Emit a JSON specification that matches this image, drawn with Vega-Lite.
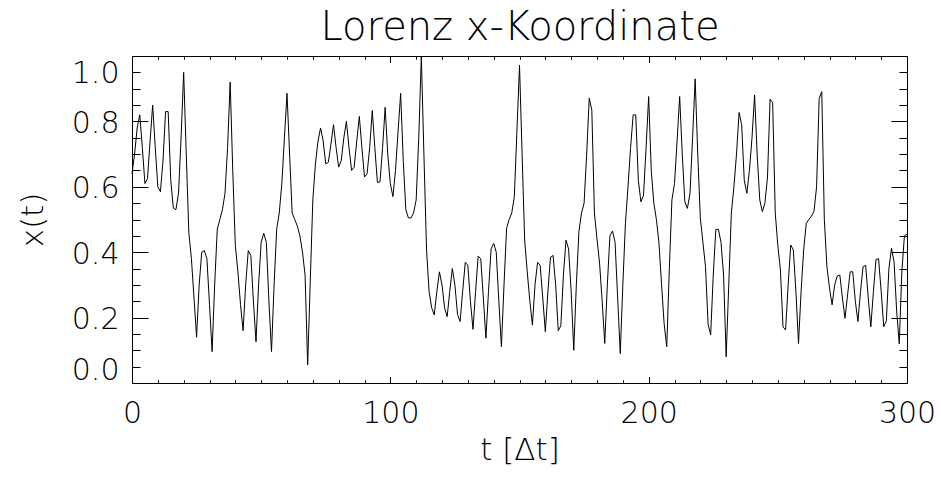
{
  "$schema": "https://vega.github.io/schema/vega-lite/v6.json",
  "width": 775,
  "height": 327,
  "autosize": "none",
  "padding": {"left": 132, "top": 56, "right": 34, "bottom": 99},
  "background": "white",
  "config": {
    "view": {"stroke": "black", "strokeWidth": 1},
    "font": "DejaVu Sans",
    "axis": {
      "grid": false,
      "domain": false,
      "tickColor": "black",
      "tickWidth": 1,
      "labelFont": "DejaVu Sans",
      "labelFontSize": 30,
      "labelFontWeight": 200,
      "labelColor": "black",
      "titleFont": "DejaVu Sans",
      "titleFontSize": 31,
      "titleFontWeight": 200,
      "titleColor": "black",
      "labelOverlap": false,
      "labelBound": false
    }
  },
  "data": {
    "values": [
      {"t":0,"x":0.64},{"t":1,"x":0.70},{"t":2,"x":0.78},{"t":3,"x":0.82},{"t":4,"x":0.72},{"t":5,"x":0.61},{"t":6,"x":0.625},{"t":7,"x":0.74},{"t":8,"x":0.85},{"t":9,"x":0.72},
      {"t":10,"x":0.60},{"t":11,"x":0.585},{"t":12,"x":0.68},{"t":13,"x":0.83},{"t":14,"x":0.83},{"t":15,"x":0.62},{"t":16,"x":0.535},{"t":17,"x":0.53},{"t":18,"x":0.58},{"t":19,"x":0.75},
      {"t":20,"x":0.95},{"t":21,"x":0.70},{"t":22,"x":0.46},{"t":23,"x":0.38},{"t":24,"x":0.26},{"t":25,"x":0.14},{"t":26,"x":0.30},{"t":27,"x":0.40},{"t":28,"x":0.405},{"t":29,"x":0.38},
      {"t":30,"x":0.24},{"t":31,"x":0.096},{"t":32,"x":0.30},{"t":33,"x":0.47},{"t":34,"x":0.50},{"t":35,"x":0.53},{"t":36,"x":0.58},{"t":37,"x":0.72},{"t":38,"x":0.92},{"t":39,"x":0.65},
      {"t":40,"x":0.42},{"t":41,"x":0.34},{"t":42,"x":0.24},{"t":43,"x":0.16},{"t":44,"x":0.30},{"t":45,"x":0.405},{"t":46,"x":0.39},{"t":47,"x":0.25},{"t":48,"x":0.126},{"t":49,"x":0.30},
      {"t":50,"x":0.43},{"t":51,"x":0.458},{"t":52,"x":0.43},{"t":53,"x":0.25},{"t":54,"x":0.096},{"t":55,"x":0.30},{"t":56,"x":0.47},{"t":57,"x":0.52},{"t":58,"x":0.61},{"t":59,"x":0.75},
      {"t":60,"x":0.886},{"t":61,"x":0.70},{"t":62,"x":0.52},{"t":63,"x":0.50},{"t":64,"x":0.48},{"t":65,"x":0.45},{"t":66,"x":0.40},{"t":67,"x":0.33},{"t":68,"x":0.055},{"t":69,"x":0.31},
      {"t":70,"x":0.56},{"t":71,"x":0.67},{"t":72,"x":0.74},{"t":73,"x":0.78},{"t":74,"x":0.74},{"t":75,"x":0.67},{"t":76,"x":0.675},{"t":77,"x":0.73},{"t":78,"x":0.79},{"t":79,"x":0.72},
      {"t":80,"x":0.66},{"t":81,"x":0.68},{"t":82,"x":0.75},{"t":83,"x":0.80},{"t":84,"x":0.72},{"t":85,"x":0.65},{"t":86,"x":0.66},{"t":87,"x":0.74},{"t":88,"x":0.815},{"t":89,"x":0.72},
      {"t":90,"x":0.63},{"t":91,"x":0.64},{"t":92,"x":0.72},{"t":93,"x":0.833},{"t":94,"x":0.72},{"t":95,"x":0.613},{"t":96,"x":0.615},{"t":97,"x":0.72},{"t":98,"x":0.843},{"t":99,"x":0.70},
      {"t":100,"x":0.61},{"t":101,"x":0.57},{"t":102,"x":0.65},{"t":103,"x":0.77},{"t":104,"x":0.886},{"t":105,"x":0.68},{"t":106,"x":0.53},{"t":107,"x":0.505},{"t":108,"x":0.505},{"t":109,"x":0.52},
      {"t":110,"x":0.56},{"t":111,"x":0.75},{"t":112,"x":1.0},{"t":113,"x":0.70},{"t":114,"x":0.41},{"t":115,"x":0.28},{"t":116,"x":0.23},{"t":117,"x":0.208},{"t":118,"x":0.28},{"t":119,"x":0.34},
      {"t":120,"x":0.30},{"t":121,"x":0.23},{"t":122,"x":0.203},{"t":123,"x":0.28},{"t":124,"x":0.35},{"t":125,"x":0.30},{"t":126,"x":0.21},{"t":127,"x":0.188},{"t":128,"x":0.28},{"t":129,"x":0.369},
      {"t":130,"x":0.36},{"t":131,"x":0.25},{"t":132,"x":0.164},{"t":133,"x":0.28},{"t":134,"x":0.388},{"t":135,"x":0.38},{"t":136,"x":0.26},{"t":137,"x":0.137},{"t":138,"x":0.28},{"t":139,"x":0.41},
      {"t":140,"x":0.427},{"t":141,"x":0.40},{"t":142,"x":0.25},{"t":143,"x":0.111},{"t":144,"x":0.30},{"t":145,"x":0.473},{"t":146,"x":0.50},{"t":147,"x":0.52},{"t":148,"x":0.57},{"t":149,"x":0.77},
      {"t":150,"x":0.972},{"t":151,"x":0.70},{"t":152,"x":0.437},{"t":153,"x":0.34},{"t":154,"x":0.25},{"t":155,"x":0.177},{"t":156,"x":0.30},{"t":157,"x":0.369},{"t":158,"x":0.36},{"t":159,"x":0.26},
      {"t":160,"x":0.157},{"t":161,"x":0.28},{"t":162,"x":0.385},{"t":163,"x":0.39},{"t":164,"x":0.30},{"t":165,"x":0.16},{"t":166,"x":0.175},{"t":167,"x":0.33},{"t":168,"x":0.437},{"t":169,"x":0.41},
      {"t":170,"x":0.28},{"t":171,"x":0.10},{"t":172,"x":0.30},{"t":173,"x":0.463},{"t":174,"x":0.52},{"t":175,"x":0.55},{"t":176,"x":0.70},{"t":177,"x":0.871},{"t":178,"x":0.834},{"t":179,"x":0.52},
      {"t":180,"x":0.44},{"t":181,"x":0.366},{"t":182,"x":0.25},{"t":183,"x":0.121},{"t":184,"x":0.30},{"t":185,"x":0.45},{"t":186,"x":0.465},{"t":187,"x":0.43},{"t":188,"x":0.26},{"t":189,"x":0.09},
      {"t":190,"x":0.30},{"t":191,"x":0.488},{"t":192,"x":0.60},{"t":193,"x":0.72},{"t":194,"x":0.82},{"t":195,"x":0.82},{"t":196,"x":0.62},{"t":197,"x":0.554},{"t":198,"x":0.574},{"t":199,"x":0.72},
      {"t":200,"x":0.876},{"t":201,"x":0.65},{"t":202,"x":0.55},{"t":203,"x":0.50},{"t":204,"x":0.427},{"t":205,"x":0.30},{"t":206,"x":0.18},{"t":207,"x":0.111},{"t":208,"x":0.35},{"t":209,"x":0.56},
      {"t":210,"x":0.61},{"t":211,"x":0.74},{"t":212,"x":0.876},{"t":213,"x":0.70},{"t":214,"x":0.554},{"t":215,"x":0.534},{"t":216,"x":0.58},{"t":217,"x":0.75},{"t":218,"x":0.93},{"t":219,"x":0.70},
      {"t":220,"x":0.504},{"t":221,"x":0.43},{"t":222,"x":0.356},{"t":223,"x":0.18},{"t":224,"x":0.147},{"t":225,"x":0.33},{"t":226,"x":0.47},{"t":227,"x":0.47},{"t":228,"x":0.43},{"t":229,"x":0.33},
      {"t":230,"x":0.08},{"t":231,"x":0.30},{"t":232,"x":0.519},{"t":233,"x":0.60},{"t":234,"x":0.70},{"t":235,"x":0.827},{"t":236,"x":0.79},{"t":237,"x":0.62},{"t":238,"x":0.58},{"t":239,"x":0.65},
      {"t":240,"x":0.75},{"t":241,"x":0.881},{"t":242,"x":0.70},{"t":243,"x":0.56},{"t":244,"x":0.524},{"t":245,"x":0.55},{"t":246,"x":0.63},{"t":247,"x":0.868},{"t":248,"x":0.857},{"t":249,"x":0.52},
      {"t":250,"x":0.42},{"t":251,"x":0.346},{"t":252,"x":0.172},{"t":253,"x":0.162},{"t":254,"x":0.30},{"t":255,"x":0.422},{"t":256,"x":0.407},{"t":257,"x":0.28},{"t":258,"x":0.121},{"t":259,"x":0.28},
      {"t":260,"x":0.407},{"t":261,"x":0.488},{"t":262,"x":0.50},{"t":263,"x":0.51},{"t":264,"x":0.525},{"t":265,"x":0.60},{"t":266,"x":0.87},{"t":267,"x":0.891},{"t":268,"x":0.50},{"t":269,"x":0.356},
      {"t":270,"x":0.29},{"t":271,"x":0.239},{"t":272,"x":0.30},{"t":273,"x":0.327},{"t":274,"x":0.33},{"t":275,"x":0.26},{"t":276,"x":0.198},{"t":277,"x":0.27},{"t":278,"x":0.34},{"t":279,"x":0.34},
      {"t":280,"x":0.25},{"t":281,"x":0.188},{"t":282,"x":0.28},{"t":283,"x":0.356},{"t":284,"x":0.36},{"t":285,"x":0.26},{"t":286,"x":0.172},{"t":287,"x":0.28},{"t":288,"x":0.378},{"t":289,"x":0.38},
      {"t":290,"x":0.28},{"t":291,"x":0.172},{"t":292,"x":0.19},{"t":293,"x":0.35},{"t":294,"x":0.412},{"t":295,"x":0.37},{"t":296,"x":0.22},{"t":297,"x":0.12},{"t":298,"x":0.34},{"t":299,"x":0.45},
      {"t":300,"x":0.455}
    ]
  },
  "resolve": {"axis": {"x": "independent", "y": "independent"}},
  "layer": [
    {
      "mark": {"type": "line", "color": "black", "strokeWidth": 1},
      "encoding": {
        "x": {"field": "t", "type": "quantitative", "scale": {"domain": [0, 300], "nice": false, "zero": false},
          "axis": {"orient": "bottom", "values": [0, 100, 200, 300], "format": "d", "tickSize": -6.5, "labelPadding": 21.5, "labelFlush": false,
            "title": "t [Δt]", "titleX": 387.5, "titleY": 76, "titleAlign": "center", "titleBaseline": "alphabetic"}},
        "y": {"field": "x", "type": "quantitative", "scale": {"domain": [0, 1], "nice": false, "zero": false},
          "axis": {"orient": "left", "values": [0, 0.2, 0.4, 0.6, 0.8, 1.0], "format": ".1f", "tickSize": -16, "labelPadding": 29, "labelFlush": true, "labelOffset": 2,
            "title": "x(t)", "titleX": -99, "titleY": 163.5, "titleAngle": 270, "titleAlign": "center", "titleBaseline": "middle"}}
      }
    },
    {
      "mark": {"type": "line", "opacity": 0},
      "encoding": {
        "x": {"field": "t", "type": "quantitative", "scale": {"domain": [0, 300], "nice": false, "zero": false},
          "axis": {"orient": "bottom", "values": [0,10,20,30,40,50,60,70,80,90,100,110,120,130,140,150,160,170,180,190,200,210,220,230,240,250,260,270,280,290,300], "tickSize": -3.3, "labels": false, "title": null}},
        "y": {"field": "x", "type": "quantitative", "scale": {"domain": [0, 1], "nice": false, "zero": false},
          "axis": {"orient": "left", "values": [0,0.05,0.1,0.15,0.2,0.25,0.3,0.35,0.4,0.45,0.5,0.55,0.6,0.65,0.7,0.75,0.8,0.85,0.9,0.95,1.0], "tickSize": -8, "labels": false, "title": null}}
      }
    },
    {
      "mark": {"type": "line", "opacity": 0},
      "encoding": {
        "x": {"field": "t", "type": "quantitative", "scale": {"domain": [0, 300], "nice": false, "zero": false},
          "axis": {"orient": "top", "values": [0, 100, 200, 300], "tickSize": -6.5, "labels": false,
            "title": "Lorenz x-Koordinate", "titleFontSize": 40, "titleX": 387.5, "titleY": -17, "titleAlign": "center", "titleBaseline": "alphabetic"}},
        "y": {"field": "x", "type": "quantitative", "scale": {"domain": [0, 1], "nice": false, "zero": false},
          "axis": {"orient": "right", "values": [0, 0.2, 0.4, 0.6, 0.8, 1.0], "tickSize": -16, "labels": false, "title": null}}
      }
    },
    {
      "mark": {"type": "line", "opacity": 0},
      "encoding": {
        "x": {"field": "t", "type": "quantitative", "scale": {"domain": [0, 300], "nice": false, "zero": false},
          "axis": {"orient": "top", "values": [0,10,20,30,40,50,60,70,80,90,100,110,120,130,140,150,160,170,180,190,200,210,220,230,240,250,260,270,280,290,300], "tickSize": -3.3, "labels": false, "title": null}},
        "y": {"field": "x", "type": "quantitative", "scale": {"domain": [0, 1], "nice": false, "zero": false},
          "axis": {"orient": "right", "values": [0,0.05,0.1,0.15,0.2,0.25,0.3,0.35,0.4,0.45,0.5,0.55,0.6,0.65,0.7,0.75,0.8,0.85,0.9,0.95,1.0], "tickSize": -8, "labels": false, "title": null}}
      }
    }
  ]
}
